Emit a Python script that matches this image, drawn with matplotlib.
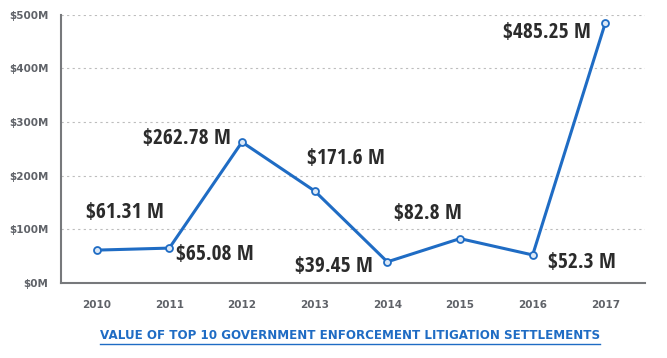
import matplotlib
matplotlib.use("Agg")
import matplotlib.pyplot as plt
from matplotlib.lines import Line2D

years = ["2010", "2011", "2012", "2013", "2014", "2015", "2016", "2017"]
values = [61.31, 65.08, 262.78, 171.6, 39.45, 82.8, 52.3, 485.25]
labels = ["$61.31 M", "$65.08 M", "$262.78 M", "$171.6 M",
          "$39.45 M", "$82.8 M", "$52.3 M", "$485.25 M"]
yticks = [0, 100, 200, 300, 400, 500]
ytick_labels = ["$0M", "$100M", "$200M", "$300M", "$400M", "$500M"]

# label offsets in pixels from each point
offsets = [(28, 38), (46, -6), (-55, 4), (31, 32),
           (-53, -5), (-32, 25), (49, -8), (-58, -10)]

blue = "#1f6cc4"
gray = "#5f6268"

fig = plt.figure(figsize=(6.67, 3.58), dpi=100)
ax = fig.add_axes([0.0915, 0.2095, 0.876, 0.749])

x = list(range(len(years)))
ax.plot(x, values, color=blue, linewidth=2.2, marker="o", markersize=5,
        markerfacecolor="#dbe8f7", markeredgecolor=blue, markeredgewidth=1.3,
        zorder=3)

for xi, v, lab, (dx, dy) in zip(x, values, labels, offsets):
    ax.annotate(lab, (xi, v), xytext=(dx, dy), textcoords="offset pixels",
                ha="center", va="center", fontsize=15.5, fontweight="bold",
                family="Open Sans Condensed", color="#2b2b2b")

ax.set_xlim(-0.49, 7.55)
ax.set_ylim(0, 500)
ax.set_xticks(x)
ax.set_xticklabels(years)
ax.set_yticks(yticks)
ax.set_yticklabels(ytick_labels)
ax.tick_params(length=0, labelsize=7.5, labelcolor=gray)
ax.tick_params(axis="x", pad=12)
ax.tick_params(axis="y", pad=9)
for t in ax.get_xticklabels() + ax.get_yticklabels():
    t.set_fontweight("bold")

for y in yticks[1:]:
    ax.axhline(y, color="#bdbdbd", linewidth=0.8, linestyle=(0, (2, 3)), zorder=1)

for side in ["top", "right"]:
    ax.spines[side].set_visible(False)
for side in ["left", "bottom"]:
    ax.spines[side].set_color("#77797c")
    ax.spines[side].set_linewidth(1.5)

title = fig.text(0.525, 0.062, "VALUE OF TOP 10 GOVERNMENT ENFORCEMENT LITIGATION SETTLEMENTS",
                 ha="center", va="center", fontsize=8.6, fontweight="bold", color=blue)

# underline the title
fig.canvas.draw()
bb = title.get_window_extent().transformed(fig.transFigure.inverted())
fig.add_artist(Line2D([bb.x0, bb.x1], [bb.y0 - 0.006, bb.y0 - 0.006],
                      transform=fig.transFigure, color=blue, linewidth=1))

fig.savefig("out.png", dpi=100)
